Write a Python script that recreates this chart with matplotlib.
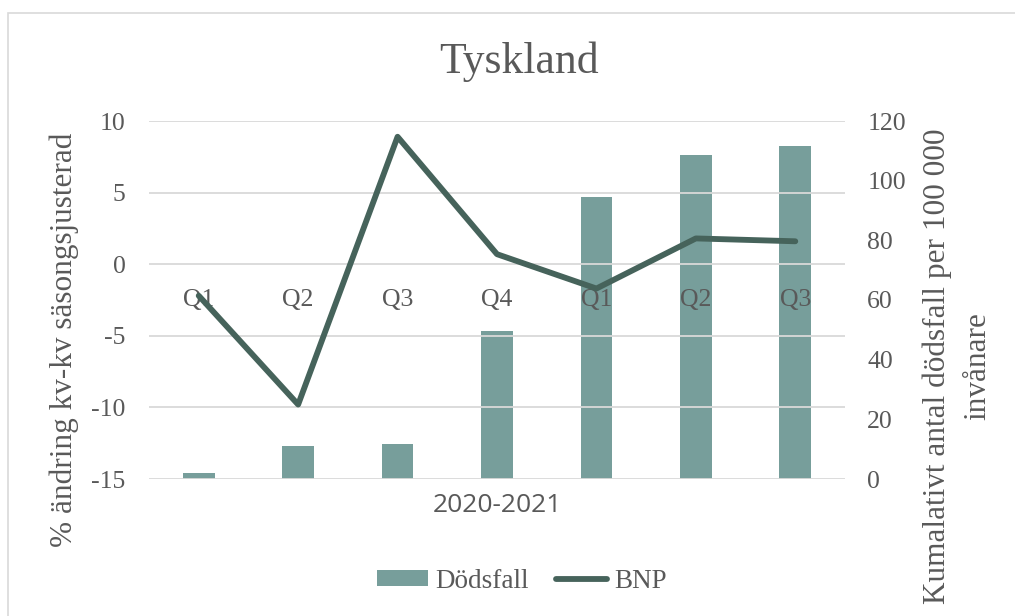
import matplotlib
matplotlib.use('Agg')
import matplotlib.pyplot as plt
from matplotlib.patches import Patch, Rectangle
from matplotlib.lines import Line2D

# data
kvartal = ['Q1', 'Q2', 'Q3', 'Q4', 'Q1', 'Q2', 'Q3']
bnp = [-2.2, -9.8, 8.9, 0.7, -1.7, 1.8, 1.6]
dodsfall = [2.0, 11.0, 11.7, 49.5, 94.5, 108.7, 111.6]

BAR_C = '#779E9B'
LINE_C = '#46635B'
TXT_C = '#595959'
GRID_C = '#D9D9D9'
SERIF = ['Liberation Serif', 'DejaVu Serif']

plt.rcParams['font.family'] = SERIF
plt.rcParams['axes.unicode_minus'] = False

fig = plt.figure(figsize=(10.15, 6.16), dpi=100)
W, H = 1015, 616

# ram runt diagrammet
fig.patches.append(Rectangle((8 / W, -0.05), 1.2, 1 - 13 / H + 0.05, transform=fig.transFigure,
                             fill=False, edgecolor=GRID_C, linewidth=1.2))

ax = fig.add_axes([149 / W, 1 - 479 / H, 696 / W, 358 / H])
ax2 = ax.twinx()

x = list(range(len(kvartal)))
ax2.bar(x, dodsfall, width=0.32, color=BAR_C, zorder=2)
ax2.set_ylim(0, 120)
ax2.set_yticks(range(0, 121, 20))

ax.plot(x, bnp, color=LINE_C, linewidth=4.2, solid_joinstyle='round', solid_capstyle='round', zorder=3)
ax.set_ylim(-15, 10)
ax.set_yticks(range(-15, 11, 5))
ax.set_xlim(-0.5, len(kvartal) - 0.5)
ax.set_zorder(ax2.get_zorder() + 1)
ax.patch.set_visible(False)
ax.grid(True, axis='y', color=GRID_C, linewidth=1.3)
ax.set_axisbelow(True)

# kategorietiketter vid nollan
ax.spines['bottom'].set_position(('data', 0))
ax.set_xticks(x)
ax.set_xticklabels(kvartal)
ax.tick_params(axis='x', length=0, pad=18, labelsize=18.5, labelcolor=TXT_C)
ax.tick_params(axis='y', length=0, pad=17, labelsize=18.5, labelcolor=TXT_C)
ax2.tick_params(axis='y', length=0, pad=16, labelsize=18.5, labelcolor=TXT_C)
ax2.tick_params(axis='x', length=0)

for a in (ax, ax2):
    for s in a.spines.values():
        s.set_visible(False)

fig.text(519 / W, 1 - 62 / H, 'Tyskland', ha='center', va='center', fontsize=31.5, color=TXT_C)
fig.text(64 / W, 1 - 340 / H, '% ändring kv-kv säsongsjusterad', rotation=90, ha='center', va='center',
         fontsize=22.5, color=TXT_C)
fig.text(937 / W, 1 - 366 / H, 'Kumalativt antal dödsfall per 100 000', rotation=90, ha='center',
         va='center', fontsize=22.5, color=TXT_C)
fig.text(978 / W, 1 - 366 / H, 'invånare', rotation=90, ha='center', va='center', fontsize=22.5, color=TXT_C)
fig.text(497 / W, 1 - 505 / H, '2020-2021', ha='center', va='center', fontsize=19, color=TXT_C,
         family=['Open Sans', 'DejaVu Sans'])

handles = [Patch(facecolor=BAR_C, edgecolor='none'),
           Line2D([0], [0], color=LINE_C, linewidth=4.2, solid_capstyle='round')]
fig.legend(handles, ['Dödsfall', 'BNP'], loc='center', bbox_to_anchor=(522 / W, 1 - 581 / H), ncol=2,
           frameon=False, prop={'family': SERIF, 'size': 19.5}, labelcolor=TXT_C, handlelength=1.9,
           handletextpad=0.26, columnspacing=1.0, handleheight=0.55)

plt.savefig('out.png', dpi=100)
